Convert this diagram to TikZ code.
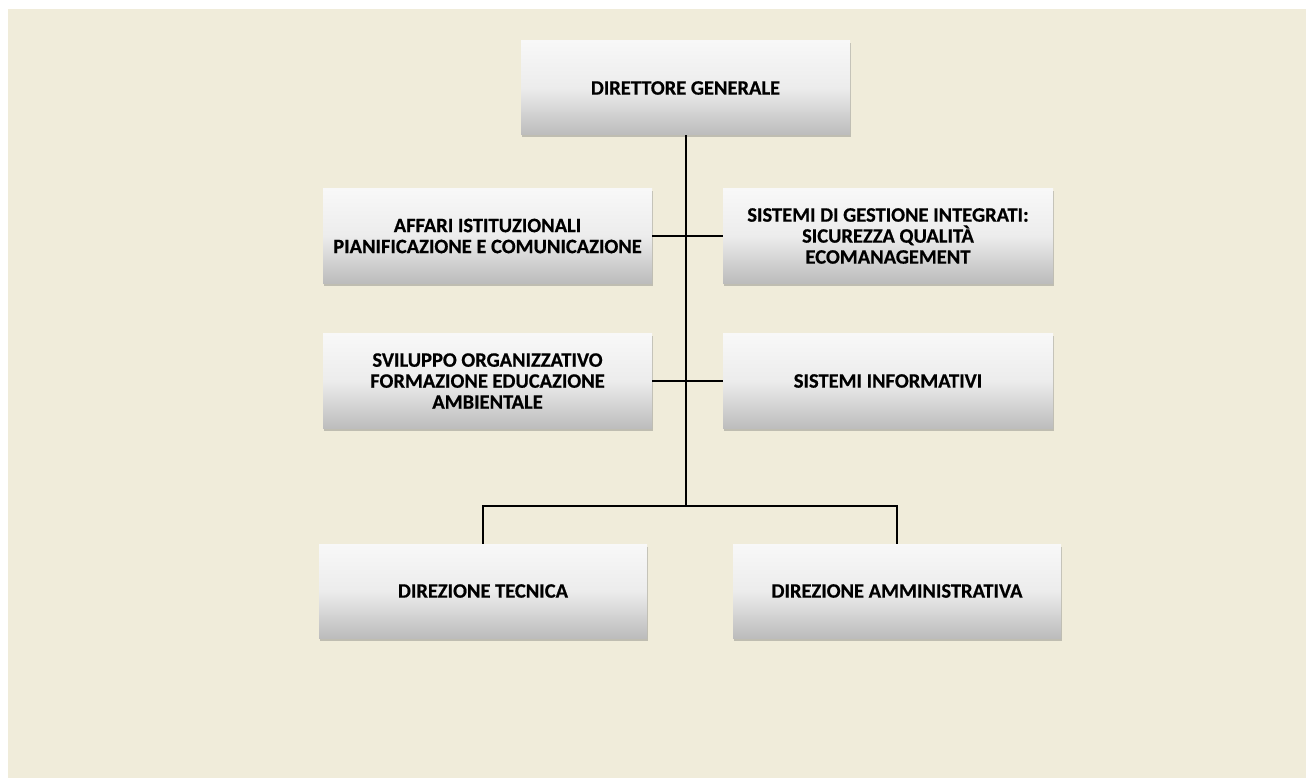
\documentclass[tikz,border=0pt]{standalone}
\usepackage{fontspec}
\setmainfont{Carlito}
\usetikzlibrary{shadows}
\definecolor{bgbeige}{RGB}{240,236,218}
\definecolor{boxtop}{RGB}{248,248,248}
\definecolor{boxmid}{RGB}{236,236,236}
\definecolor{boxbot}{RGB}{188,188,188}
\begin{document}
\begin{tikzpicture}[x=1pt,y=-1pt,
  orgbox/.style={rectangle, minimum width=329pt, minimum height=94pt, inner sep=2pt,
    top color=boxtop, bottom color=boxbot, middle color=boxmid,
    drop shadow={shadow xshift=1pt, shadow yshift=-2.5pt, opacity=0.35, fill=black!60},
    align=center, font=\fontsize{20.5}{21}\selectfont\bfseries\addfontfeature{FakeBold=0.6}, text=black},
  link/.style={draw=black, line width=1.6pt}]
\useasboundingbox (0,0) rectangle (1306,778);
\fill[white] (0,0) rectangle (1306,778);
\fill[bgbeige] (8,9) rectangle (1306,778);
\node[orgbox] (dg) at (685.5,88) {DIRETTORE GENERALE};
\node[orgbox] (aff) at (487.5,236) {AFFARI ISTITUZIONALI\\PIANIFICAZIONE E COMUNICAZIONE};
\node[orgbox, minimum width=330pt] (sgi) at (888,236) {SISTEMI DI GESTIONE INTEGRATI:\\SICUREZZA QUALITÀ\\ECOMANAGEMENT};
\node[orgbox, minimum height=95pt] (svi) at (487.5,381) {SVILUPPO ORGANIZZATIVO\\FORMAZIONE EDUCAZIONE\\AMBIENTALE};
\node[orgbox, minimum width=330pt, minimum height=95pt] (si) at (888,381) {SISTEMI INFORMATIVI};
\node[orgbox, minimum width=328pt] (dt) at (483,591) {DIREZIONE TECNICA};
\node[orgbox, minimum width=328pt] (da) at (897,591) {DIREZIONE AMMINISTRATIVA};
\coordinate (bus) at (686,506);
\draw[link] (dg.south -| bus) -- (bus);
\draw[link] (aff.east) -- (sgi.west);
\draw[link] (svi.east) -- (si.west);
\draw[link] (dt.north) |- (bus) -| (da.north);
\end{tikzpicture}
\end{document}
